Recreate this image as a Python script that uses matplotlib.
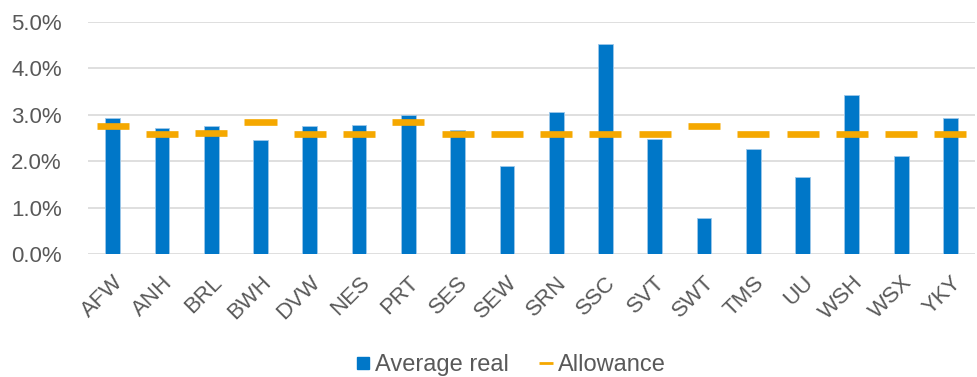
import matplotlib
matplotlib.use("Agg")
import matplotlib.pyplot as plt
from matplotlib.lines import Line2D
import numpy as np

categories = ["AFW", "ANH", "BRL", "BWH", "DVW", "NES", "PRT", "SES", "SEW",
              "SRN", "SSC", "SVT", "SWT", "TMS", "UU", "WSH", "WSX", "YKY"]
average_real = [2.92, 2.71, 2.75, 2.46, 2.75, 2.79, 3.00, 2.68, 1.90,
                3.06, 4.53, 2.47, 0.77, 2.27, 1.66, 3.42, 2.12, 2.92]
allowance = [2.75, 2.58, 2.60, 2.84, 2.58, 2.58, 2.84, 2.58, 2.58,
             2.58, 2.58, 2.58, 2.75, 2.58, 2.58, 2.58, 2.58, 2.58]
yticks = [0, 1, 2, 3, 4, 5]

plt.rcParams['font.family'] = ['Liberation Sans', 'DejaVu Sans']
BLUE = "#0077C8"
ORANGE = "#F5A800"
GRAY = "#595959"

fig = plt.figure(figsize=(9.78, 3.77), dpi=100)
ax = fig.add_axes([0.09, 0.326, 0.907, 0.616])
x = np.arange(len(categories))
ax.bar(x, average_real, width=0.30, color=BLUE, edgecolor="#9DC8EA",
       linewidth=0.6, zorder=2)
ax.hlines(allowance, x - 0.325, x + 0.325, colors=ORANGE, linewidth=4.8, zorder=3)

ax.set_xlim(-0.5, len(categories) - 0.5)
ax.set_ylim(0, 5)
ax.set_yticks(yticks)
ax.set_yticklabels([f"{v:.1f}%" for v in yticks])
ax.yaxis.grid(True, color="#D9D9D9", linewidth=1.2, zorder=0)
ax.set_axisbelow(True)
for s in ax.spines.values():
    s.set_visible(False)
ax.tick_params(axis='both', length=0, labelsize=16, labelcolor=GRAY)
ax.tick_params(axis='y', pad=19)
ax.set_xticks(x)
ax.set_xticklabels(categories, rotation=45, ha='right', rotation_mode='anchor')
ax.tick_params(axis='x', pad=13)

handles = [Line2D([], [], marker='s', color=BLUE, linestyle='none', markersize=9),
           Line2D([], [], marker='_', color=ORANGE, linestyle='none', markersize=10,
                  markeredgewidth=2)]
fig.legend(handles, ["Average real", "Allowance"], loc='lower center',
           bbox_to_anchor=(0.52, -0.055), ncol=2, frameon=False, fontsize=17,
           labelcolor=GRAY, handletextpad=0.0, columnspacing=1.1, handlelength=1.0)
fig.savefig("out.png", dpi=100)
